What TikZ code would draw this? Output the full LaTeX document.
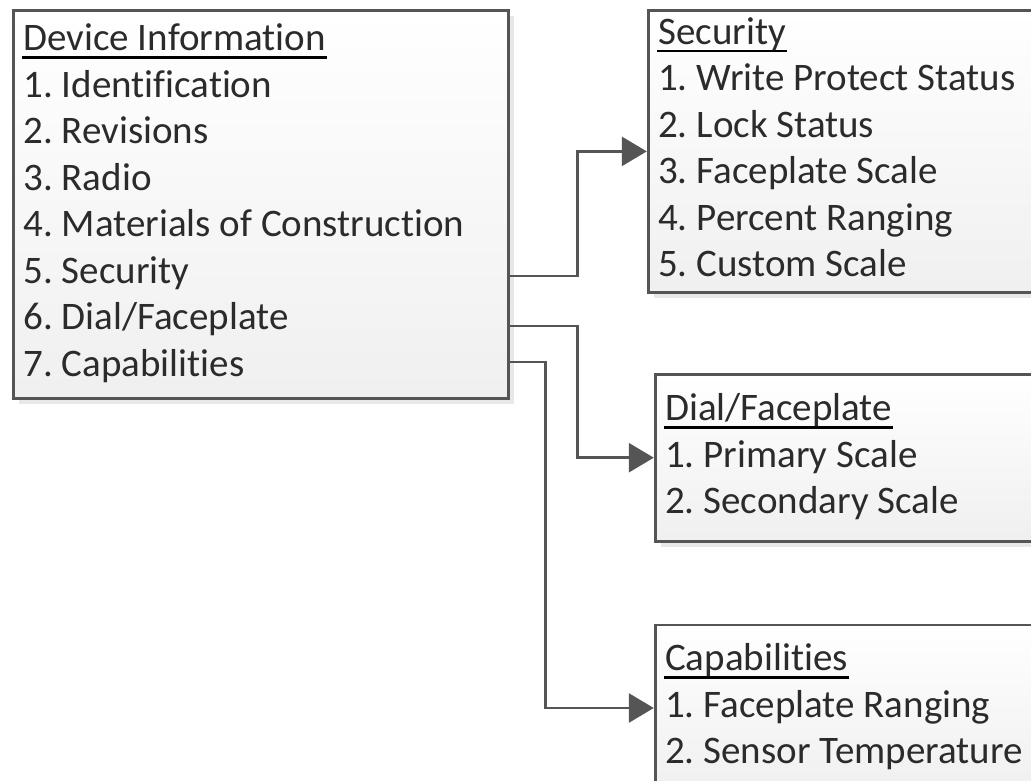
\documentclass[tikz,border=0pt]{standalone}
\usepackage{fontspec}
\setmainfont{Carlito}[Ligatures=NoCommon]
\usetikzlibrary{positioning,calc,shadows,arrows.meta}

\definecolor{linegray}{HTML}{555555}
\definecolor{textgray}{HTML}{2B2B2B}

% underlined box title
\newcommand{\boxtitle}[1]{\setbox0=\hbox{#1}\rlap{\kern-1pt\color{black}\rule[-8pt]{\dimexpr\wd0+2pt\relax}{2.6pt}}\box0}
% fixed word spaces, strut for even rows
\newcommand{\rowsetup}{\frenchspacing\spaceskip=\fontdimen2\font\relax\strut}

\tikzset{
  listbox/.style={draw=linegray, line width=2.8pt, top color=white, bottom color=black!6,
    drop shadow={shadow xshift=6pt, shadow yshift=-6pt, fill=black!9, opacity=1},
    align=left, anchor=north west, inner xsep=10pt, inner ysep=0pt,
    font=\fontsize{39}{46.5}\selectfont, text=textgray,
    execute at begin node=\rowsetup, execute at end node=\strut},
  link/.style={draw=linegray, line width=2.8pt, -{Triangle[length=25pt,width=29pt]}}
}

\begin{document}
\begin{tikzpicture}[x=1pt, y=-1pt]
\fill[white] (0,0) rectangle (1031,781);
\useasboundingbox (0,0) rectangle (1031,781);
\clip (0,0) rectangle (1031,781);

% Boxes
\node (main) [listbox, text width=475pt, minimum height=388pt] at (12,9)
  {\boxtitle{Device Information}\\1. Identification\\2. Revisions\\3. Radio\\4. Materials of Construction\\5. Security\\6. Dial/Faceplate\\7. Capabilities};
\node (sec) [listbox, text width=400pt, minimum height=282pt, right=137pt of main.north east, anchor=north west]
  {\boxtitle{Security}\\1. Write Protect Status\\2. Lock Status\\3. Faceplate Scale\\4. Percent Ranging\\5. Custom Scale};
\node (dial) [listbox, text width=400pt, minimum height=167pt, below=79pt of sec.south west, anchor=north west, xshift=7pt]
  {\boxtitle{Dial/Faceplate}\\1. Primary Scale\\2. Secondary Scale};
\node (caps) [listbox, text width=400pt, minimum height=166pt, below=81pt of dial.south west, anchor=north west]
  {\boxtitle{Capabilities}\\1. Faceplate Ranging\\2. Sensor Temperature};

% Links
\draw[link] ($(main.north east)+(0,267)$) -- ++(68,0) |- (sec.west);
\draw[link] ($(main.north east)+(0,317)$) -- ++(68,0) |- (dial.west);
\draw[link] ($(main.north east)+(0,353)$) -- ++(36,0) |- (caps.west);

\end{tikzpicture}
\end{document}
